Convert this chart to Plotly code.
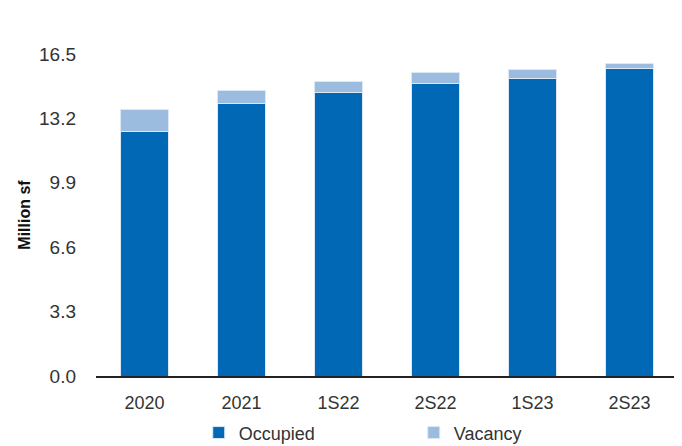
import plotly.graph_objects as go

categories = ["2020", "2021", "1S22", "2S22", "1S23", "2S23"]
occupied = [12.55, 13.94, 14.52, 15.01, 15.22, 15.78]
vacancy = [1.10, 0.68, 0.57, 0.55, 0.51, 0.23]
y_ticks = [0.0, 3.3, 6.6, 9.9, 13.2, 16.5]
y_tick_labels = ["0.0", "3.3", "6.6", "9.9", "13.2", "16.5"]

fig = go.Figure()
fig.add_trace(go.Bar(x=categories, y=occupied, name="Occupied",
                     marker=dict(color="#0068B4", line=dict(color="#DCE8F4", width=1))))
fig.add_trace(go.Bar(x=categories, y=vacancy, name="Vacancy",
                     marker=dict(color="#9BBCDF", line=dict(color="#DCE8F4", width=1))))

# page body has an 8px margin, so the figure is sized 8px smaller
fig.update_layout(
    barmode="stack",
    bargap=0.5,
    width=674, height=438,
    margin=dict(l=88, r=4, t=46, b=70, autoexpand=False),
    plot_bgcolor="white", paper_bgcolor="white",
    font=dict(family="Liberation Sans, Arial, sans-serif", size=18, color="#333333"),
    showlegend=True,
    legend=dict(orientation="h", x=0.602, xanchor="center", xref="container",
                y=0.03, yanchor="middle", yref="container",
                entrywidth=170, font=dict(size=18, color="#333333"),
                traceorder="normal"),
    xaxis=dict(showline=True, linecolor="#222222", linewidth=1.5, ticks="",
               automargin=False, ticklabelstandoff=10,
               tickfont=dict(size=18, color="#333333")),
    yaxis=dict(range=[0, 16.5], tickvals=y_ticks, ticktext=y_tick_labels,
               showgrid=False, zeroline=False, showline=False, ticks="",
               automargin=False, ticklabelstandoff=19,
               tickfont=dict(size=19, color="#333333"),
               title=dict(text="<b>Million sf</b>",
                          font=dict(family="Liberation Sans, Arial", size=16, color="#111111"),
                          standoff=4)),
)

fig.write_html("out.html")
